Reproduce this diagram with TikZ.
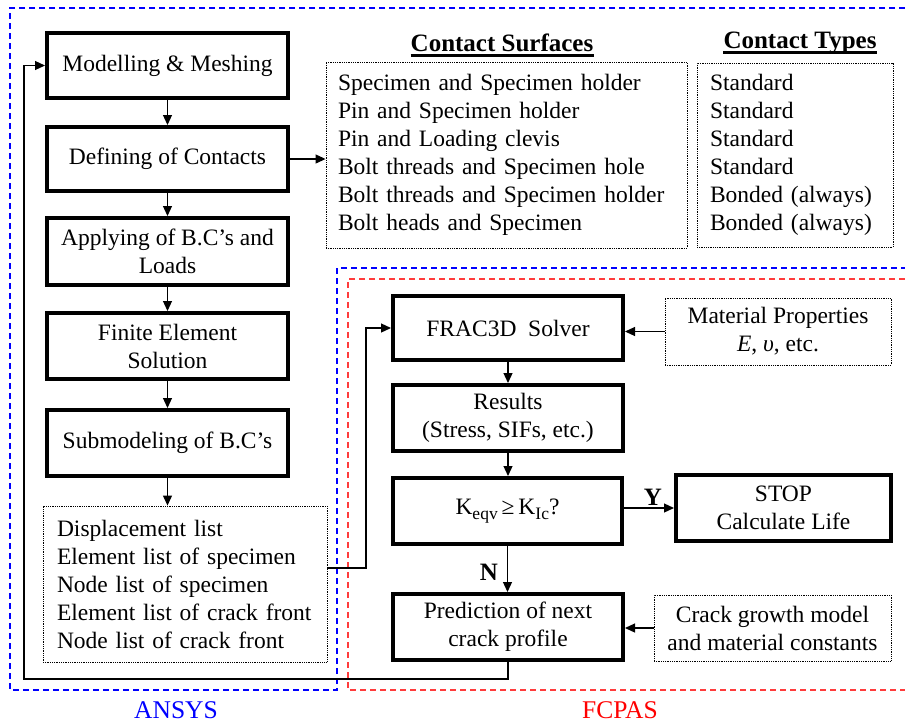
\documentclass[tikz,border=0pt]{standalone}
\usepackage{fontspec}
\setmainfont{Liberation Serif}
\usetikzlibrary{arrows.meta,calc}
\definecolor{ansysblue}{RGB}{0,0,255}
\definecolor{fcpasred}{RGB}{255,0,0}
\definecolor{redframe}{RGB}{255,60,60}
\newcommand\mainfs{\fontsize{23.5}{28}\selectfont}
\newcommand\headfs{\fontsize{25}{28}\selectfont\bfseries}
\newcommand\subfs{\fontsize{17.5}{17.5}\selectfont}
\begin{document}
\begin{tikzpicture}[x=1pt,y=-1pt,
  box/.style={draw, line width=4pt, inner sep=2pt, align=center, font=\mainfs},
  listbox/.style={draw, line width=0.9pt, dash pattern=on 0.9pt off 0.9pt, inner ysep=0pt, align=left, font=\mainfs},
  infobox/.style={draw, line width=0.9pt, dash pattern=on 0.9pt off 0.9pt, inner sep=2pt, align=center, font=\mainfs},
  arr/.style={line width=1.2pt, -{Triangle[length=10pt,width=9pt]}},
  frame/.style={line width=1.3pt, dash pattern=on 6pt off 4pt},
  head/.style={inner sep=0pt, font=\headfs},
  yn/.style={inner sep=0pt, font=\headfs}
]
\useasboundingbox (0,0) rectangle (905,724);

% frames
\draw[ansysblue, frame] (905,8) -- (10,8) -- (10,690) -- (337,690) -- (337,268) -- (905,268);
\draw[redframe, frame] (905,279) -- (348,279) -- (348,690) -- (905,690);

% ANSYS column
\node[box, minimum width=241pt, minimum height=65pt] (m) at (167.5,65.5) {Modelling \& Meshing};
\node[box, minimum width=241pt, minimum height=64pt] (d) at (167.5,159) {Defining of Contacts};
\node[box, minimum width=241pt, minimum height=67pt] (ap) at (167.5,251.5) {Applying of B.C’s and\\Loads};
\node[box, minimum width=241pt, minimum height=66pt] (fe) at (167.5,346) {Finite Element\\Solution};
\node[box, minimum width=241pt, minimum height=66pt] (sm) at (167.5,443) {Submodeling of B.C’s};
\node[listbox, inner xsep=14pt, text width=256pt, minimum height=156pt] (disp) at (185,584)
  {Displacement list\\Element list of specimen\\Node list of specimen\\Element list of crack front\\Node list of crack front};

% contacts
\node[head] (h1) at (502,43) {Contact Surfaces};
\node[head] (h2) at (800,43) {Contact Types};
\draw[line width=2.5pt] ([yshift=-4pt]h1.base west) -- ([yshift=-4pt]h1.base east);
\draw[line width=2.5pt] ([yshift=-4pt]h2.base west) -- ([yshift=-4pt]h2.base east);
\node[listbox, inner xsep=12pt, text width=337pt, minimum height=186pt] (cs) at (506.5,155)
  {Specimen and Specimen holder\\Pin and Specimen holder\\Pin and Loading clevis\\Bolt threads and Specimen hole\\Bolt threads and Specimen holder\\Bolt heads and Specimen};
\node[listbox, inner xsep=13pt, text width=170pt, minimum height=184pt] (ct) at (795,155)
  {Standard\\Standard\\Standard\\Standard\\Bonded (always)\\Bonded (always)};

% FCPAS column
\node[box, minimum width=230pt, minimum height=64pt] (fr) at (508,328) {FRAC3D\ \ Solver};
\node[infobox, minimum width=226pt, minimum height=67pt] (mp) at (778,331.5) {Material Properties\\\textit{E}, \textit{υ}, etc.};
\node[box, minimum width=230pt, minimum height=66pt] (rs) at (508,418) {Results\\(Stress, SIFs, etc.)};
\node[box, minimum width=229pt, minimum height=66pt] (kq) at (507.5,511)
  {K\raisebox{-5pt}{\subfs eqv}\,≥\,K\raisebox{-5pt}{\subfs Ic}?};
\node[box, minimum width=215pt, minimum height=66pt] (st) at (783.5,508) {STOP\\Calculate Life};
\node[box, minimum width=230pt, minimum height=66pt] (pr) at (508,627) {Prediction of next\\crack profile};
\node[infobox, minimum width=237pt, minimum height=66pt] (cg) at (772.5,628) {Crack growth model\\and material constants};

% labels
\node[text=ansysblue, inner sep=0pt, font=\fontsize{25.5}{28}\selectfont] (ansys) at (176,710) {ANSYS};
\node[text=fcpasred, inner sep=0pt, font=\fontsize{25.5}{28}\selectfont] (fcpas) at (620,710) {FCPAS};
\node[yn] (ylab) at (653,497) {Y};
\node[yn] (nlab) at (489,572) {N};

% connectors
\draw[arr] (m.south) -- (d.north);
\draw[arr] (d.south) -- (ap.north);
\draw[arr] (ap.south) -- (fe.north);
\draw[arr] (fe.south) -- (sm.north);
\draw[arr] (sm.south) -- (sm.south |- disp.north);
\draw[arr] (d.east) -- (d.east -| cs.west);
\coordinate (j1) at (366,568);
\draw[arr] (disp.east |- j1) -- (j1) -- (j1 |- fr.west) -- (fr.west);
\draw[arr] (mp.west) -- (mp.west -| fr.east);
\draw[arr] (fr.south) -- (rs.north);
\draw[arr] (rs.south) -- (rs.south |- kq.north);
\draw[arr] (kq.east |- st.west) -- (st.west);
\draw[arr] (kq.south) -- (kq.south |- pr.north);
\draw[arr] (cg.west) -- (cg.west -| pr.east);
\coordinate (j2) at (24,679);
\draw[arr] (pr.south) -- (pr.south |- j2) -- (j2) -- (j2 |- m.west) -- (m.west);
\end{tikzpicture}
\end{document}
